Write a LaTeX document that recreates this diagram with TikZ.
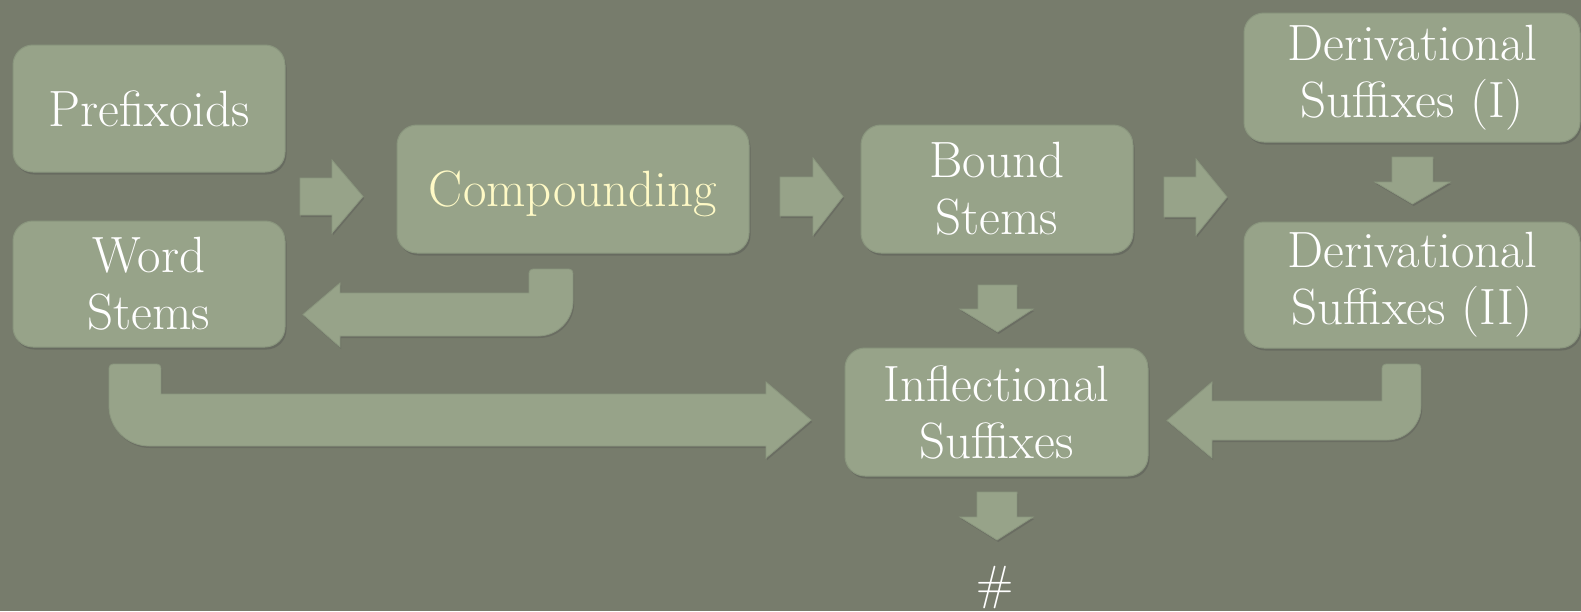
\documentclass[tikz,border=0pt]{standalone}
\usetikzlibrary{shadows}
\definecolor{bgc}{HTML}{777C6C}
\definecolor{boxc}{HTML}{97A389}
\definecolor{boxline}{HTML}{8A967E}
\definecolor{hlc}{HTML}{FFFAC6}
\tikzset{
  card/.style={fill=boxc, draw=boxline, line width=1pt, rounded corners=20pt,
    text=white, align=center, inner sep=0pt,
    font=\fontsize{51}{57}\selectfont,
    drop shadow={shadow xshift=1.5pt, shadow yshift=-2.5pt, opacity=0.35, fill=black!70}},
  blk/.style={fill=boxc, draw=boxline, line width=0.8pt, line join=miter,
    drop shadow={shadow xshift=1.2pt, shadow yshift=-2pt, opacity=0.3, fill=black!70}},
  lbl/.style={text=white, inner sep=0pt, font=\fontsize{48}{56}\selectfont}
}
\begin{document}
\begin{tikzpicture}[x=1pt,y=-1pt]
\fill[bgc] (0,0) rectangle (1581,611);
\useasboundingbox (0,0) rectangle (1581,611);

% boxes
\node[card, minimum width=272pt, minimum height=127pt] (pre) at (149,108.5) {Prefixoids};
\node[card, minimum width=272pt, minimum height=126pt] (word) at (149,284) {Word\\Stems};
\node[card, minimum width=352pt, minimum height=128pt, text=hlc, text depth=0pt] (comp) at (573,189) {Compounding};
\node[card, minimum width=272pt, minimum height=128pt] (bound) at (997,189) {Bound\\Stems};
\node[card, minimum width=303pt, minimum height=128pt] (infl) at (996.5,412) {Inflectional\\Suffixes};
\node[card, minimum width=336pt, minimum height=129pt] (der1) at (1412,77.5) {Derivational\\Suffixes (I)};
\node[card, minimum width=336pt, minimum height=126pt] (der2) at (1412,285) {Derivational\\Suffixes (II)};
\node[lbl] (hash) at (995,588) {\#};

% straight block arrows (right)
\filldraw[blk] (300,178) -- (332,178) -- (332,160) -- (363,196.5) -- (332,233) -- (332,215) -- (300,215) -- cycle;
\filldraw[blk] (780,177) -- (813,177) -- (813,158) -- (843,196.5) -- (813,235) -- (813,216) -- (780,216) -- cycle;
\filldraw[blk] (1164,177) -- (1196,177) -- (1196,159) -- (1227,197) -- (1196,235) -- (1196,217) -- (1164,217) -- cycle;

% straight block arrows (down)
\filldraw[blk] (1392,157) -- (1433,157) -- (1433,182) -- (1450,182) -- (1412.5,204) -- (1375,182) -- (1392,182) -- cycle;
\filldraw[blk] (978,285) -- (1017,285) -- (1017,309) -- (1033,309) -- (997.5,332) -- (960,309) -- (978,309) -- cycle;
\filldraw[blk] (977,492) -- (1017,492) -- (1017,517) -- (1033,517) -- (997,540) -- (960,517) -- (977,517) -- cycle;

% bent arrow: Compounding -> Word Stems
\filldraw[blk] (340,293) -- (529,293) -- (529,273)
  arc[start angle=180, end angle=90, radius=4pt] -- (569,269)
  arc[start angle=90, end angle=0, radius=4pt] -- (573,301)
  arc[start angle=0, end angle=-90, radius=35pt] -- (340,336)
  -- (340,347) -- (303,314.5) -- (340,283) -- cycle;

% bent arrow: Word Stems -> Inflectional Suffixes
\filldraw[blk] (161,394) -- (766,394) -- (766,382) -- (811,420) -- (766,458) -- (766,446) -- (149,446)
  arc[start angle=-90, end angle=-180, radius=40pt] -- (109,368)
  arc[start angle=180, end angle=90, radius=4pt] -- (157,364)
  arc[start angle=90, end angle=0, radius=4pt] -- cycle;

% bent arrow: Derivational (II) -> Inflectional Suffixes
\filldraw[blk] (1212,401) -- (1382,401) -- (1382,368)
  arc[start angle=180, end angle=90, radius=4pt] -- (1417,364)
  arc[start angle=90, end angle=0, radius=4pt] -- (1421,406)
  arc[start angle=0, end angle=-90, radius=34pt] -- (1212,440)
  -- (1212,458) -- (1167,420.5) -- (1212,382) -- cycle;
\end{tikzpicture}
\end{document}
